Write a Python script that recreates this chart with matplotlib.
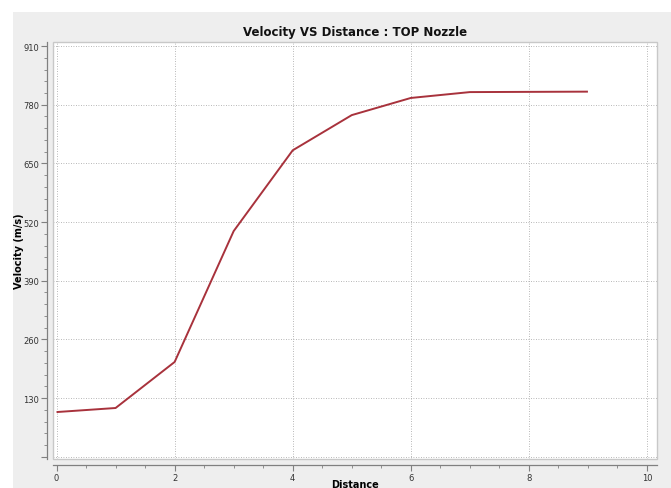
import numpy as np
import matplotlib.pyplot as plt
from matplotlib.patches import Rectangle
from matplotlib.ticker import MultipleLocator, FixedLocator

# data
distance = [0, 1, 2, 3, 4, 5, 6, 7, 8, 9]
velocity = [99, 108, 210, 500, 679, 757, 795, 808, 808.5, 809]

x_ticks = [0, 2, 4, 6, 8, 10]
y_ticks = [130, 260, 390, 520, 650, 780, 910]
title = 'Velocity VS Distance : TOP Nozzle'


def main():
    W, H = 671, 489
    fig = plt.figure(figsize=(W / 100, H / 100), dpi=100)
    fig.patch.set_facecolor('white')
    # grey panel behind the chart
    fig.patches.append(Rectangle((13 / W, 0), 1, 1 - 13 / H, transform=fig.transFigure,
                                 facecolor='#eeeeee', edgecolor='none', zorder=-10))

    ax = fig.add_axes([53 / W, (H - 460) / H, (657 - 53) / W, (460 - 43) / H])
    ax.set_facecolor('white')

    ax.plot(distance, velocity, color='#a8323c', lw=1.4, solid_capstyle='butt', zorder=3)

    ax.set_xlim(-0.06, 10.17)
    ax.set_ylim(-5, 919)

    ax.xaxis.set_major_locator(FixedLocator(x_ticks))
    ax.xaxis.set_minor_locator(MultipleLocator(0.5))
    ax.yaxis.set_major_locator(FixedLocator([0] + y_ticks))
    ax.yaxis.set_minor_locator(MultipleLocator(26))
    ax.set_yticklabels([''] + [str(v) for v in y_ticks])

    ax.grid(True, which='major', linestyle=(0, (1, 2)), color='#a0a0a0', lw=0.6)

    for side in ['top', 'right']:
        ax.spines[side].set_visible(False)
    for side in ['left', 'bottom']:
        ax.spines[side].set_position(('outward', 4))
        ax.spines[side].set_color('#808080')
        ax.spines[side].set_linewidth(0.9)
    # plot border
    ax.add_patch(Rectangle((0, 0), 1, 1, transform=ax.transAxes, fill=False,
                           edgecolor='#c8c8c8', lw=1.0, clip_on=False, zorder=4))

    ax.tick_params(which='major', length=4, width=0.8, color='#808080',
                   labelsize=6, labelcolor='#333333', pad=2)
    ax.tick_params(which='minor', length=2, width=0.6, color='#808080')

    ax.set_title(title, fontsize=8.5, fontweight='bold', pad=5, color='#111111')
    ax.set_xlabel('Distance', fontsize=7, fontweight='bold', va='center')
    ax.xaxis.set_label_coords(0.5, -25 / 417)
    ax.set_ylabel('Velocity (m/s)', fontsize=7, fontweight='bold', labelpad=-1)

    fig.savefig('out.png', dpi=100)


if __name__ == "__main__":
    main()
